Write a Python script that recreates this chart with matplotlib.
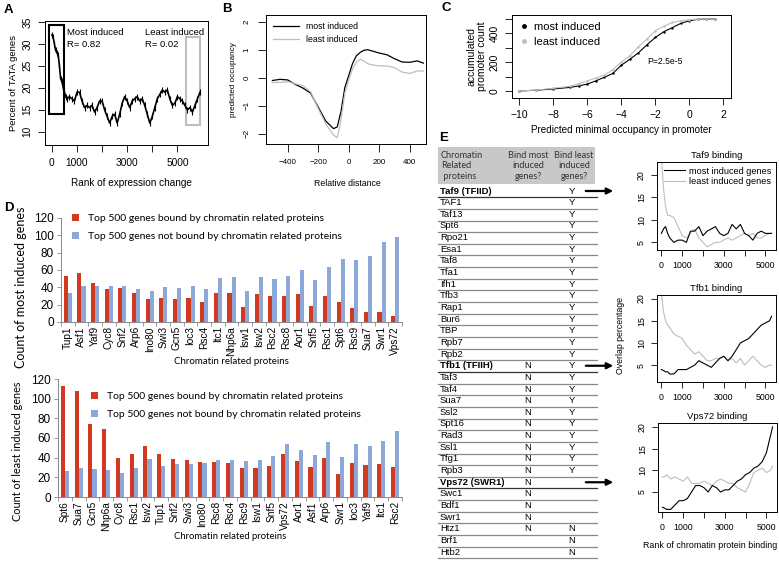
import matplotlib.pyplot as plt
import numpy as np
from matplotlib.patches import Rectangle
from matplotlib.lines import Line2D

plt.rcParams['font.family'] = ['Liberation Sans', 'DejaVu Sans']

W, H = 779, 565

# ---- panel A: percent of TATA genes along the rank of expression change
rank_a = [0, 50, 100, 150, 200, 250, 300, 350, 400, 450, 500, 550, 600, 700, 800, 900,
          1000, 1100, 1200, 1300, 1400, 1500, 1600, 1700, 1800, 1900, 2000, 2100, 2200,
          2300, 2400, 2500, 2600, 2700, 2800, 2900, 3000, 3100, 3200, 3300, 3400, 3500,
          3600, 3700, 3800, 3900, 4000, 4100, 4200, 4300, 4400, 4500, 4600, 4700, 4800,
          4900, 5000, 5100, 5200, 5300, 5400, 5500, 5600, 5700, 5800, 5900]
tata_pct = [32, 31.5, 30, 28.5, 28, 27.5, 25, 22, 21.5, 20, 19, 18, 17.5, 18, 17.5, 17,
            19, 19, 17, 15.5, 16, 15.5, 16, 14.5, 15.5, 17, 17, 15, 13.5,
            12, 13.5, 14, 12, 14, 16.5, 18, 17, 15.5, 17, 17.5, 18, 17,
            17.5, 16, 14, 12, 13.5, 15.5, 17.5, 18.5, 19.5, 19, 19.5, 17.5, 16,
            16.5, 18, 17.5, 17, 16, 15, 15.5, 14.5, 16, 17.5, 19]

# ---- panel B: predicted occupancy around the TSS
dist_b = [-500, -450, -400, -350, -300, -250, -200, -150, -100, -75, -50, -25, 0, 25, 50,
          75, 100, 125, 150, 200, 250, 300, 350, 400, 450, 490]
occ_most = [-0.10, -0.06, -0.08, -0.24, -0.37, -0.55, -1.05, -1.55, -1.82, -1.76, -1.2,
            -0.35, 0.07, 0.5, 0.78, 0.9, 0.98, 1.0, 0.96, 0.88, 0.82, 0.68, 0.56, 0.55,
            0.6, 0.52]
occ_least = [-0.17, -0.17, -0.14, -0.22, -0.28, -0.5, -1.1, -1.65, -2.05, -2.15, -1.5,
             -0.55, -0.08, 0.3, 0.55, 0.66, 0.6, 0.5, 0.46, 0.42, 0.42, 0.36, 0.2, 0.15,
             0.24, 0.24]

# ---- panel C: accumulated promoter count
min_occ = [-10, -9, -8, -7, -6.5, -6, -5.5, -5, -4.5, -4, -3.5, -3, -2.5, -2, -1.5, -1,
           -0.5, 0, 0.5, 1, 1.5]
acc_most = [0, 5, 14, 25, 35, 48, 70, 95, 122, 179, 220, 265, 320, 372, 412, 440, 470,
            488, 498, 500, 500]
acc_least = [0, 6, 19, 33, 50, 70, 90, 110, 148, 200, 245, 307, 360, 418, 450, 476, 488,
             496, 499, 500, 500]

# ---- panel D: counts per chromatin related protein
prot_top = ['Tup1', 'Asf1', 'Yaf9', 'Cyc8', 'Snf2', 'Arp6', 'Ino80', 'Swi3', 'Gcn5', 'Ioc3',
            'Rsc4', 'Itc1', 'Nhp6a', 'Isw1', 'Isw2', 'Rsc2', 'Rsc8', 'Aor1', 'Snf5', 'Rsc1',
            'Spt6', 'Rsc9', 'Sua7', 'Swr1', 'Vps72']
top_bound = [53, 57, 45, 38, 39, 33, 27, 28, 26, 28, 23, 34, 34, 17, 32, 30, 30, 32, 19,
             30, 23, 16, 12, 11, 7]
top_unbound = [33, 41, 41, 41, 42, 38, 36, 40, 39, 42, 38, 51, 52, 36, 52, 50, 53, 60, 49,
               64, 73, 71, 76, 92, 98]

prot_low = ['Spt6', 'Sua7', 'Gcn5', 'Nhp6a', 'Cyc8', 'Rsc1', 'Isw2', 'Tup1', 'Snf2', 'Swi3',
            'Ino80', 'Rsc8', 'Rsc4', 'Rsc9', 'Isw1', 'Snf5', 'Vps72', 'Aor1', 'Asf1', 'Arp6',
            'Swr1', 'Ioc3', 'Yaf9', 'Itc1', 'Rsc2']
low_bound = [113, 108, 74, 69, 40, 44, 52, 44, 39, 38, 36, 36, 35, 30, 29, 32, 44, 37, 31,
             40, 23, 35, 33, 34, 31]
low_unbound = [26, 29, 28, 27, 24, 30, 39, 32, 34, 34, 35, 38, 38, 37, 38, 42, 54, 48, 43,
               56, 41, 54, 52, 57, 67]

# ---- panel E: table
tab_names = ['Taf9 (TFIID)', 'TAF1', 'Taf13', 'Spt6', 'Rpo21', 'Esa1', 'Taf8', 'Tfa1', 'Ifh1',
             'Tfb3', 'Rap1', 'Bur6', 'TBP', 'Rpb7', 'Rpb2', 'Tfb1 (TFIIH)', 'Taf3', 'Taf4',
             'Sua7', 'Ssl2', 'Spt16', 'Rad3', 'Ssl1', 'Tfg1', 'Rpb3', 'Vps72 (SWR1)', 'Swc1',
             'Bdf1', 'Swr1', 'Htz1', 'Brf1', 'Htb2']
tab_most = [''] * 15 + ['N'] * 15 + ['', '']
tab_least = ['Y'] * 25 + [''] * 4 + ['N', 'N', 'N']

# ---- panel E: overlap percentage along the rank of binding
rank_e = [0, 100, 200, 300, 400, 600, 800, 1000, 1200, 1400, 1600, 1800, 2000, 2200, 2400,
          2600, 2800, 3000, 3200, 3400, 3600, 3800, 4000, 4200, 4400, 4600, 4800, 5000,
          5200, 5300]
taf9_most = [7, 8, 8.5, 7, 6, 5, 5.5, 5.5, 5, 7.5, 7.5, 8.5, 6.5, 7.5, 8, 8.5, 7, 6.5, 7,
             9, 8, 9, 7, 6.5, 5.5, 7, 7.5, 7, 7, 7]
taf9_least = [24, 17, 13, 11, 11, 10.5, 8.5, 6.5, 6, 7, 8, 6, 5, 4, 4.5, 5, 5, 5.5, 6, 5.5,
              6, 6.5, 7, 6.5, 7, 6, 6, 6.5, 7, 7]
tfb1_most = [4, 3.8, 3.5, 3.5, 3, 3, 4, 4, 4, 4.5, 5, 6, 5.5, 5, 4.5, 5.5, 6.5, 7, 6, 7,
             8.5, 10, 10.5, 11, 12, 13, 14, 14.5, 15, 16]
tfb1_least = [21, 17, 15, 14, 13.5, 12, 11.5, 11, 9.5, 8.5, 7.5, 8, 7, 6, 6, 6.5, 6.5, 7, 6,
              6.5, 5.5, 6.5, 5, 6, 7, 6, 5, 4.5, 5, 5]
vps72_most = [1.5, 1.3, 1, 1, 1, 2, 3, 3, 3.5, 5, 6.5, 6.5, 6, 5, 6.5, 6, 5, 5.5, 5.5, 6.5,
              7.5, 8, 9, 9.5, 10.5, 11, 12, 14, 18, 20]
vps72_least = [8.5, 8.5, 9, 8.5, 8, 8.5, 8, 7.5, 8.5, 7, 7, 7, 7.5, 7, 6.5, 7.5, 8, 7.5, 7,
               7, 6, 5.5, 5, 7, 9.5, 10, 10.5, 9.5, 10, 11]

GREY = '#BEBEBE'
RED = '#D13A20'
BLUE = '#8CA8D8'
CAL = ['Lato', 'DejaVu Sans']

fig = plt.figure(figsize=(W / 100, H / 100), dpi=100)


def px_axes(l, t, r, b):
    return fig.add_axes([l / W, 1 - b / H, (r - l) / W, (b - t) / H])


def r_style(ax, fs, length=4, pad=3):
    for s in ax.spines.values():
        s.set_linewidth(0.7)
    ax.tick_params(direction='out', length=length, width=0.6, labelsize=fs, pad=pad)
    ax.tick_params(axis='y', labelrotation=90)
    for lab in ax.get_yticklabels():
        lab.set_va('center')


# overlay in pixel coordinates for labels and the table
ov = fig.add_axes([0, 0, 1, 1])
ov.set_xlim(0, W)
ov.set_ylim(H, 0)
ov.axis('off')

for lab, x, y in [('A', 4, 10), ('B', 222, 9), ('C', 442, 8), ('D', 4, 208), ('E', 439, 138)]:
    ov.text(x, y, lab, fontsize=9.5, fontweight='bold', va='center')

# ---------- A
axA = px_axes(45, 21, 208, 145)
axA.plot(rank_a, tata_pct, color='black', lw=1.2, marker='|', ms=5, mew=0.8)
axA.add_patch(Rectangle((-120, 14.1), 620, 20.1, fill=False, ec='black', lw=1.5))
axA.add_patch(Rectangle((5350, 11.5), 550, 20, fill=False, ec=GREY, lw=1.5))
axA.text(600, 33.5, 'Most induced\nR= 0.82', fontsize=6.8, va='top', linespacing=1.3)
axA.text(3700, 33.5, 'Least induced\nR= 0.02', fontsize=6.8, va='top', linespacing=1.3)
axA.set_xlim(-275, 6220)
axA.set_ylim(7, 35.2)
axA.set_xticks(range(0, 6000, 1000))
axA.set_xticklabels(['0', '1000', '', '3000', '', '5000'])
axA.set_yticks(range(10, 40, 5))
r_style(axA, 7.3, length=5, pad=4)
axA.set_ylabel('Percent of TATA genes', fontsize=6.8, labelpad=3)
ov.text(131, 183, 'Rank of expression change', fontsize=7.2, ha='center', va='center')

# ---------- B
axB = px_axes(266, 15, 426, 144)
axB.plot(dist_b, occ_most, color='black', lw=0.9, label='most induced')
axB.plot(dist_b, occ_least, color=GREY, lw=0.9, label='least induced')
axB.set_xlim(-542, 507)
axB.set_ylim(-2.37, 2.24)
axB.set_xticks([-400, -200, 0, 200, 400])
axB.set_yticks([-2, -1, 0, 1, 2])
r_style(axB, 5.8, length=6, pad=5)
axB.legend(loc='upper left', frameon=False, fontsize=6.3, handlelength=3, borderaxespad=0.4)
axB.set_ylabel('predicted occupancy', fontsize=5.9, labelpad=5)
ov.text(347, 183, 'Relative distance', fontsize=6.3, ha='center', va='center')

# ---------- C
axC = px_axes(512, 15, 731, 98)
axC.plot(min_occ, acc_most, color='black', lw=0.8, marker='.', ms=1.5, label='most induced')
axC.plot(min_occ, acc_least, color=GREY, lw=0.8, marker='.', ms=1.5, label='least induced')
axC.set_xlim(-10.43, 2.45)
axC.set_ylim(-49, 528)
axC.set_xticks(range(-10, 3, 2))
axC.set_xticklabels(['\u221210', '\u22128', '\u22126', '\u22124', '\u22122', '0', '2'])
axC.set_yticks(range(0, 600, 100))
axC.set_yticklabels(['0', '', '200', '', '400', ''])
r_style(axC, 7.5, length=5, pad=4)
axC.legend(handles=[Line2D([], [], ls='', marker='o', ms=2.5, color='black'),
                    Line2D([], [], ls='', marker='o', ms=2.5, color=GREY)],
           labels=['most induced', 'least induced'], loc='upper left', frameon=False,
           fontsize=8, handlelength=1, handletextpad=0.4, borderaxespad=0.2)
axC.text(-2.5, 190, 'P=2.5e-5', fontsize=6.2)
axC.set_ylabel('accumulated\npromoter count', fontsize=7.5, labelpad=2, linespacing=1.0)
axC.set_xlabel('Predicted minimal occupancy in promoter', fontsize=7.1, labelpad=3)


# ---------- D
def excel_bars(ax, names, bound, unbound, ylab, ylab_fs, xlab_fs):
    x = np.arange(len(names))
    ax.bar(x - 0.15, bound, width=0.3, color=RED, label='Top 500 genes bound by chromatin related proteins')
    ax.bar(x + 0.15, unbound, width=0.3, color=BLUE, label='Top 500 genes not bound by chromatin related proteins')
    ax.set_xlim(-0.5, len(names) - 0.5)
    ax.set_ylim(0, 120)
    ax.set_yticks(range(0, 140, 20))
    ax.set_xticks(x)
    ax.set_xticklabels(names, rotation=90, fontsize=7.3)
    ax.set_xticks(np.arange(-0.5, len(names), 1), minor=True)
    ax.tick_params(axis='x', which='major', length=0, pad=3)
    ax.tick_params(axis='x', which='minor', length=3, width=0.6, color='#888888')
    ax.tick_params(axis='y', length=3, width=0.6, color='#888888', labelsize=8.5, pad=2)
    for s in ['top', 'right']:
        ax.spines[s].set_visible(False)
    for s in ['left', 'bottom']:
        ax.spines[s].set_color('#888888')
        ax.spines[s].set_linewidth(0.7)
    ax.set_xlabel('Chromatin related proteins', fontsize=xlab_fs, family=CAL, labelpad=1)
    ax.set_ylabel(ylab, fontsize=ylab_fs, family=CAL)


leg_kw = dict(bbox_transform=fig.transFigure, loc='upper left', frameon=False,
              prop={'family': CAL, 'size': 7.5}, handlelength=0.6, handleheight=0.6,
              handletextpad=0.9, labelspacing=0.85)

axD1 = px_axes(61, 218, 402, 322)
excel_bars(axD1, prot_top, top_bound, top_unbound, 'Count of most induced genes', 9, 7)
axD1.yaxis.set_label_coords(-0.1, 0.33)
axD1.legend(bbox_to_anchor=(63 / W, 1 - 205 / H), **leg_kw)

axD2 = px_axes(58, 379, 402, 497)
excel_bars(axD2, prot_low, low_bound, low_unbound, 'Count of least induced genes', 7.8, 6.8)
axD2.yaxis.set_label_coords(-0.102, 0.39)
axD2.legend(bbox_to_anchor=(82 / W, 1 - 383 / H), **leg_kw)

# ---------- E table
ov.add_patch(Rectangle((438, 147), 157, 37, color='#C8C8C8', lw=0))
hdr_kw = dict(fontsize=6.6, family=CAL, va='center', color='#333333', linespacing=1.18)
ov.text(441, 166, 'Chromatin\nRelated\n proteins', **hdr_kw)
ov.text(528, 166, 'Bind most\ninduced\ngenes?', ha='center', **hdr_kw)
ov.text(574, 166, 'Bind least\ninduced\ngenes?', ha='center', **hdr_kw)
row_h = 11.65
row0 = 191
for i, (nm, mo, le) in enumerate(zip(tab_names, tab_most, tab_least)):
    yc = row0 + i * row_h
    bold = '(' in nm
    ov.text(440, yc, nm, fontsize=6.8, va='center', fontweight='bold' if bold else 'normal')
    ov.text(528, yc, mo, fontsize=6.8, va='center', ha='center')
    ov.text(572, yc, le, fontsize=6.8, va='center', ha='center')
    ov.plot([438, 597], [yc + 6.2, yc + 6.2], color='#333333' if bold else '#888888', lw=0.9)

for i in [0, 15, 25]:
    yc = row0 + i * row_h
    ov.annotate('', xy=(616, yc), xytext=(583, yc),
                arrowprops=dict(arrowstyle='-|>', color='black', lw=1.6, mutation_scale=9))

# ---------- E plots
e_specs = [('Taf9 binding', taf9_most, taf9_least, (657, 162, 776, 250), (3.3, 22.9)),
           ('Tfb1 binding', tfb1_most, tfb1_least, (657, 295, 776, 382), (1.2, 20.8)),
           ('Vps72 binding', vps72_most, vps72_least, (658, 423, 777, 512), (0.4, 20.9))]
for k, (title, mo, le, box, yl) in enumerate(e_specs):
    ax = px_axes(*box)
    ax.plot(rank_e, le, color=GREY, lw=0.8, label='least induced genes')
    ax.plot(rank_e, mo, color='black', lw=0.8, label='most induced genes')
    ax.set_xlim(-212, 5512)
    ax.set_ylim(*yl)
    ax.set_xticks(range(0, 6000, 1000))
    ax.set_xticklabels(['0', '1000', '', '3000', '', '5000'])
    ax.set_yticks([5, 10, 15, 20])
    r_style(ax, 6.3, length=4, pad=4)
    ax.set_title(title, fontsize=6.8, pad=3)
    if k == 0:
        h, l = ax.get_legend_handles_labels()
        ax.legend(h[::-1], l[::-1], loc='upper right', fontsize=6.6, frameon=False,
                  borderaxespad=0.1, handlelength=2.3, handletextpad=0.4,
                  labelspacing=0.15)
ov.text(621, 335, 'Overlap percentage', fontsize=6.3, rotation=90, ha='center', va='center')
ov.text(710, 545, 'Rank of chromatin protein binding', fontsize=6.4, ha='center', va='center')

fig.savefig('out.png', dpi=100)
